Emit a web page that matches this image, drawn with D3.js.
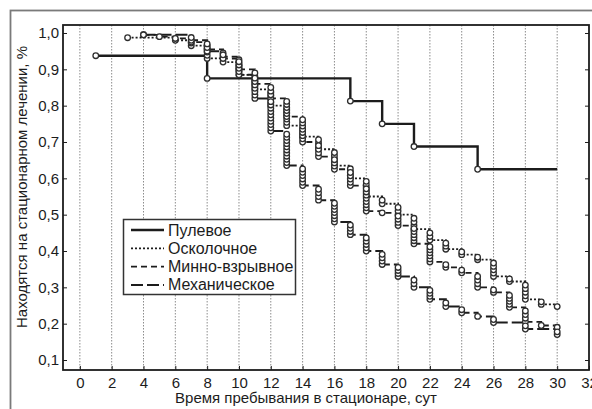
<!DOCTYPE html>
<html>
<head>
<meta charset="utf-8">
<script src="https://cdn.jsdelivr.net/npm/d3@7"></script>
<style>
  body { margin: 0; background: #fff; }
  svg { display: block; font-family: "Liberation Sans", Arial, sans-serif; }
</style>
</head>
<body>
<svg id="chart"></svg>
<script>
var viewWidth = 592;
var viewHeight = 409;

// Kaplan-Meier steps: day of drop and level after it
var pulevoeDays = [1, 8, 17, 19, 21, 25];
var pulevoeSurv = [0.9375, 0.875, 0.8125, 0.75, 0.6875, 0.625];

var oskolDays = [3, 6, 7, 8, 9, 10, 11, 12, 13, 14, 15, 16, 17, 18, 19, 20, 21, 22, 23, 24, 25, 26, 27, 28, 29, 30];
var oskolSurv = [0.987, 0.98, 0.965, 0.93, 0.92, 0.885, 0.845, 0.80, 0.745, 0.715, 0.68, 0.635, 0.60, 0.55, 0.53, 0.50, 0.46, 0.43, 0.405, 0.39, 0.376, 0.33, 0.316, 0.267, 0.253, 0.247];

var minnoDays = [4, 5, 6, 7, 8, 9, 10, 11, 12, 13, 14, 15, 16, 17, 18, 19, 20, 21, 22, 23, 24, 25, 26, 27, 28, 29, 30];
var minnoSurv = [0.995, 0.99, 0.985, 0.975, 0.955, 0.935, 0.90, 0.86, 0.82, 0.77, 0.70, 0.66, 0.625, 0.58, 0.51, 0.505, 0.47, 0.42, 0.37, 0.355, 0.34, 0.30, 0.286, 0.245, 0.205, 0.195, 0.19];

var mechDays = [4, 7, 8, 9, 10, 11, 12, 13, 14, 15, 16, 17, 18, 19, 20, 21, 22, 23, 24, 25, 26, 28, 30];
var mechSurv = [0.995, 0.98, 0.95, 0.93, 0.885, 0.82, 0.73, 0.635, 0.58, 0.54, 0.48, 0.445, 0.40, 0.363, 0.33, 0.30, 0.267, 0.247, 0.23, 0.22, 0.203, 0.185, 0.17];

var seriesNames = ["Пулевое", "Осколочное", "Минно-взрывное", "Механическое"];
var xTicks = [0, 2, 4, 6, 8, 10, 12, 14, 16, 18, 20, 22, 24, 26, 28, 30, 32];
var yTicks = [0.1, 0.2, 0.3, 0.4, 0.5, 0.6, 0.7, 0.8, 0.9, 1.0];
var lastDay = 30;

var series = [
  {name: seriesNames[0], days: pulevoeDays, surv: pulevoeSurv, dash: null, width: 2.4, unit: 0.0625},
  {name: seriesNames[1], days: oskolDays, surv: oskolSurv, dash: "2,2", width: 1.8, unit: 0.009},
  {name: seriesNames[2], days: minnoDays, surv: minnoSurv, dash: "6,4", width: 1.8, unit: 0.009},
  {name: seriesNames[3], days: mechDays, surv: mechSurv, dash: "12,4", width: 2, unit: 0.009}
];

var svg = d3.select("#chart")
    .attr("width", viewWidth)
    .attr("height", viewHeight);

var ink = "#1c1c1c";
var fontSize = "15px";

// outer frame of the figure
svg.append("rect")
    .attr("x", 10.5).attr("y", 10.5)
    .attr("width", 620).attr("height", 420)
    .attr("fill", "none")
    .attr("stroke", "#7a7a7a")
    .attr("stroke-width", 1.8);

var plot = {left: 63, right: 589, top: 25, bottom: 370};

var x = d3.scaleLinear().domain([-1.06, 32]).range([plot.left, plot.right]);
var y = d3.scaleLinear().domain([0.0725, 1.022]).range([plot.bottom, plot.top]);

var ru = d3.formatLocale({decimal: ",", thousands: " ", grouping: [3], currency: ["", ""]});
var fmt = ru.format(".1f");

// dotted vertical grid
svg.append("g")
    .selectAll("line")
    .data(xTicks.filter(function(d) { return d < 32; }))
    .enter().append("line")
    .attr("x1", function(d) { return x(d); })
    .attr("x2", function(d) { return x(d); })
    .attr("y1", plot.top)
    .attr("y2", plot.bottom)
    .attr("stroke", "#8c8c8c")
    .attr("stroke-width", 1)
    .attr("stroke-dasharray", "1.5,1.5");

// step lines
var line = d3.line()
    .x(function(d) { return x(d[0]); })
    .y(function(d) { return y(d[1]); })
    .curve(d3.curveStepAfter);

series.forEach(function(s) {
  var pts = s.days.map(function(d, i) { return [d, s.surv[i]]; });
  if (s.days[s.days.length - 1] < lastDay) pts.push([lastDay, s.surv[s.surv.length - 1]]);
  svg.append("path")
      .attr("d", line(pts))
      .attr("fill", "none")
      .attr("stroke", ink)
      .attr("stroke-width", s.width)
      .attr("stroke-dasharray", s.dash);
});

// event circles stacked along each drop
series.forEach(function(s) {
  var marks = [];
  s.days.forEach(function(d, i) {
    var v = s.surv[i];
    var p = i > 0 ? s.surv[i - 1] : v + s.unit;
    var k = Math.max(1, Math.round((p - v) / s.unit));
    for (var j = 0; j < k; j++) marks.push([d, v + j * (p - v) / k]);
  });
  svg.append("g")
      .selectAll("circle")
      .data(marks)
      .enter().append("circle")
      .attr("cx", function(d) { return x(d[0]); })
      .attr("cy", function(d) { return y(d[1]); })
      .attr("r", 2.8)
      .attr("fill", "#fff")
      .attr("stroke", "#2e2e2e")
      .attr("stroke-width", 1.3);
});

// plot box
svg.append("rect")
    .attr("x", plot.left).attr("y", plot.top)
    .attr("width", plot.right - plot.left)
    .attr("height", plot.bottom - plot.top)
    .attr("fill", "none")
    .attr("stroke", ink)
    .attr("stroke-width", 1.8);

var xAxis = d3.axisBottom(x).tickValues(xTicks).tickSize(-4).tickPadding(7).tickFormat(d3.format("d"));
var yAxis = d3.axisLeft(y).tickValues(yTicks).tickSize(-4).tickPadding(4).tickFormat(fmt);

svg.append("g")
    .attr("transform", "translate(0," + plot.bottom + ")")
    .call(xAxis)
    .call(function(g) { g.select(".domain").remove(); })
    .call(function(g) {
      g.selectAll("text").attr("fill", ink).style("font-size", fontSize).style("font-family", null);
      g.selectAll("line").attr("stroke", ink);
    });

svg.append("g")
    .attr("transform", "translate(" + plot.left + ",0)")
    .call(yAxis)
    .call(function(g) { g.select(".domain").remove(); })
    .call(function(g) {
      g.selectAll("text").attr("fill", ink).style("font-size", fontSize).style("font-family", null);
      g.selectAll("line").attr("stroke", ink);
    });

// right side ticks
svg.append("g")
    .attr("transform", "translate(" + plot.right + ",0)")
    .call(d3.axisRight(y).tickValues(yTicks).tickSize(-4).tickFormat(""))
    .call(function(g) { g.select(".domain").remove(); g.selectAll("line").attr("stroke", ink); });

// axis titles
svg.append("text")
    .attr("x", 306)
    .attr("y", 403)
    .attr("text-anchor", "middle")
    .attr("fill", ink)
    .style("font-size", fontSize)
    .text("Время пребывания в стационаре, сут");

svg.append("text")
    .attr("transform", "translate(27,187) rotate(-90)")
    .attr("text-anchor", "middle")
    .attr("fill", ink)
    .style("font-size", fontSize)
    .text("Находятся на стационарном лечении, %");

// legend
var legend = svg.append("g").attr("transform", "translate(123,219)");
legend.append("rect")
    .attr("x", 0.5).attr("y", 0.5)
    .attr("width", 172).attr("height", 75)
    .attr("fill", "#fff")
    .attr("stroke", "#333")
    .attr("stroke-width", 1.5);

var rows = legend.selectAll(".row")
    .data(series)
    .enter().append("g")
    .attr("class", "row")
    .attr("transform", function(d, i) { return "translate(0," + (11 + i * 18.3) + ")"; });

rows.append("line")
    .attr("x1", 8).attr("x2", 41)
    .attr("y1", 0).attr("y2", 0)
    .attr("stroke", ink)
    .attr("stroke-width", function(d) { return d.width; })
    .attr("stroke-dasharray", function(d) { return d.dash; });

rows.append("text")
    .attr("x", 45)
    .attr("y", 5.5)
    .attr("fill", ink)
    .style("font-size", "16px")
    .text(function(d) { return d.name; });
</script>
</body>
</html>
